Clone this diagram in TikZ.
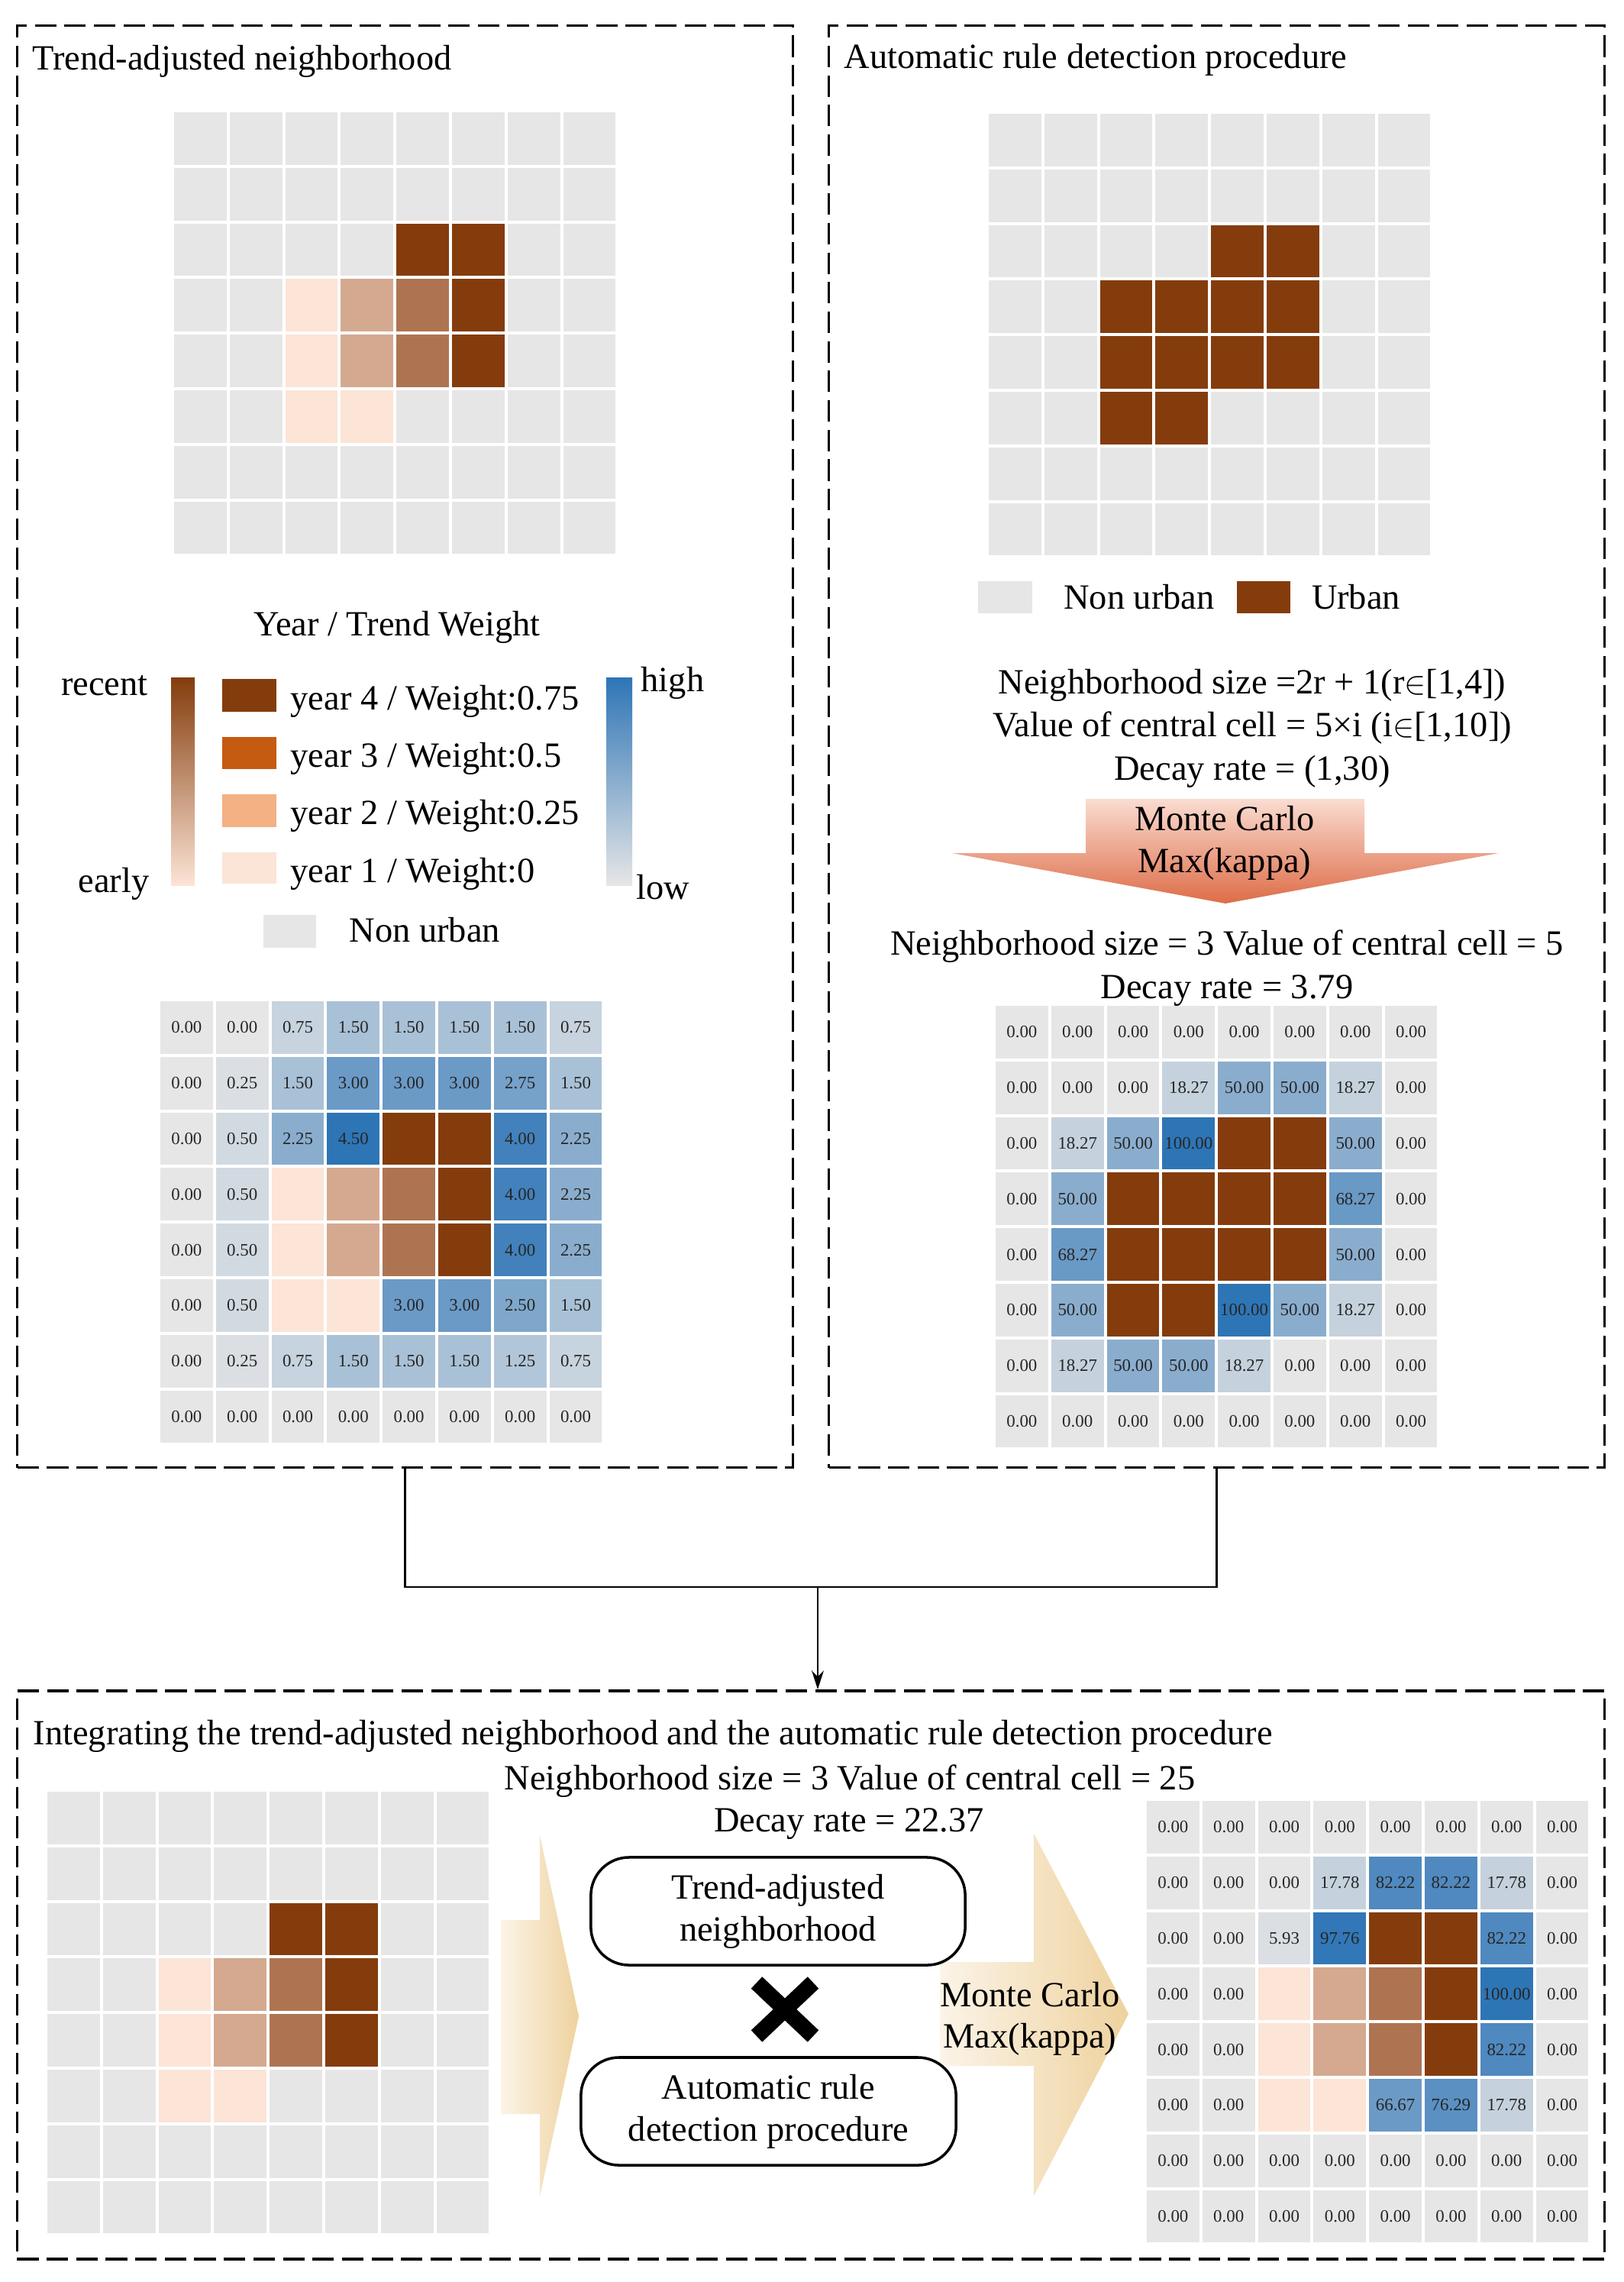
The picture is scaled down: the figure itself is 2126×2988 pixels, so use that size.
\documentclass[tikz,border=0pt]{standalone}
\usepackage{fontspec}
\setmainfont{Liberation Serif}
\usetikzlibrary{arrows.meta}
\newcommand\fs{\fontsize{13.2}{15.6}\selectfont}
\newcommand\fn{\fontsize{6.5}{7}\selectfont}
\definecolor{gg}{HTML}{E6E6E6}
\definecolor{bl}{HTML}{2E75B6}
\definecolor{ub}{HTML}{843C0C}
\definecolor{pc}{HTML}{AE7452}
\definecolor{pb}{HTML}{D4A98F}
\definecolor{pa}{HTML}{FCE4D6}
\definecolor{yc}{HTML}{C55A11}
\definecolor{yb}{HTML}{F4B183}
\definecolor{ya}{HTML}{FBE5D6}
\definecolor{arA}{HTML}{FADCD1}
\definecolor{arB}{HTML}{DD6D48}
\definecolor{tnA}{HTML}{FCF4E8}
\definecolor{tnB}{HTML}{EED29E}
\newcommand\valgrid[4]{%
 \foreach \cc/\lab [count=\gi from 0] in {#4}{%
  \pgfmathtruncatemacro\gr{\gi/8}%
  \pgfmathtruncatemacro\gc{mod(\gi,8)}%
  \fill[fill=\cc] ({#1+\gc*72.8},{#2+\gr*72.8}) rectangle ++(68.8,68.8);
  \node[num] (#3-\gi) at ({#1+\gc*72.8+34.4},{#2+\gr*72.8+34.4}) {\lab};
 }}
\newcommand\plaingrid[3]{%
 \foreach \gi in {0,...,63}{%
  \pgfmathtruncatemacro\gr{\gi/8}\pgfmathtruncatemacro\gc{mod(\gi,8)}%
  \fill[fill=gg] ({#1+\gc*72.8},{#2+\gr*72.8}) rectangle ++(68.8,68.8);}
 \foreach \gc/\gr/\cc in {#3}{\fill[fill=\cc] ({#1+\gc*72.8},{#2+\gr*72.8}) rectangle ++(68.8,68.8);}}
\tikzset{
  panel/.style={draw, dash pattern=on 8pt off 3pt, line width=1pt, inner sep=0pt},
  txt/.style={font=\fs, inner sep=0pt, anchor=base},
  txtw/.style={txt, anchor=base west},
  num/.style={font=\fn, inner sep=0pt, text=black!85},
  conn/.style={line width=0.8pt},
  rbox/.style={draw, rounded corners=0.5cm, line width=1pt, align=center, font=\fs, inner sep=0pt},
  lsq/.style={draw=none}
}
\begin{document}
\begin{tikzpicture}[x=0.01cm, y=-0.01cm]
\useasboundingbox[fill=white] (0,0) rectangle (2126,2988);

% panels
\node[panel, minimum width=10.15cm, minimum height=18.87cm] (L) at (530.5,977.5) {};
\node[panel, minimum width=10.15cm, minimum height=18.87cm] (R) at (1593.5,977.5) {};
\node[panel, minimum width=20.78cm, minimum height=7.44cm] (B) at (1062,2586) {};

% connectors
\coordinate (J) at (1071,2078);
\draw[conn] (L.south) |- (J);
\draw[conn] (R.south) |- (J);
\draw[conn, -{Stealth[length=7pt, width=4.5pt]}] (J) -- (J |- B.north);

% ---------- left panel ----------
\node[txtw] (tL) at (42,92) {Trend-adjusted neighborhood};
\plaingrid{228}{147}{4/2/ub,5/2/ub,2/3/pa,3/3/pb,4/3/pc,5/3/ub,2/4/pa,3/4/pb,4/4/pc,5/4/ub,2/5/pa,3/5/pa}
\node[txt] (yrw) at (520,832) {Year / Trend Weight};
\node[txt] (rec) at (137,910) {recent};
\node[txt] (ear) at (149,1168) {early};
\shade[top color=ub, bottom color=pa] (224,887) rectangle (255,1159);
\fill[ub] (291,889) rectangle (362,932);
\fill[yc] (291,965) rectangle (362,1007);
\fill[yb] (291,1040) rectangle (362,1083);
\fill[ya] (291,1116) rectangle (362,1157);
\node[txtw] (y4) at (380,929) {year 4 / Weight:0.75};
\node[txtw] (y3) at (380,1004) {year 3 / Weight:0.5};
\node[txtw] (y2) at (380,1079) {year 2 / Weight:0.25};
\node[txtw] (y1) at (380,1155) {year 1 / Weight:0};
\shade[top color=bl, bottom color=gg] (794,887) rectangle (828,1159);
\node[txt] (hig) at (881,905) {high};
\node[txt] (low) at (868,1177) {low};
\fill[gg] (345,1198) rectangle (414,1241);
\node[txtw] (nuL) at (457,1233) {Non urban};

\valgrid{210}{1311}{gB}{%
gg/0.00, gg/0.00, bl!17!gg/0.75, bl!33!gg/1.50, bl!33!gg/1.50, bl!33!gg/1.50, bl!33!gg/1.50, bl!17!gg/0.75,
gg/0.00, bl!6!gg/0.25, bl!33!gg/1.50, bl!67!gg/3.00, bl!67!gg/3.00, bl!67!gg/3.00, bl!61!gg/2.75, bl!33!gg/1.50,
gg/0.00, bl!11!gg/0.50, bl!50!gg/2.25, bl!100!gg/4.50, ub/{}, ub/{}, bl!89!gg/4.00, bl!50!gg/2.25,
gg/0.00, bl!11!gg/0.50, pa/{}, pb/{}, pc/{}, ub/{}, bl!89!gg/4.00, bl!50!gg/2.25,
gg/0.00, bl!11!gg/0.50, pa/{}, pb/{}, pc/{}, ub/{}, bl!89!gg/4.00, bl!50!gg/2.25,
gg/0.00, bl!11!gg/0.50, pa/{}, pa/{}, bl!67!gg/3.00, bl!67!gg/3.00, bl!56!gg/2.50, bl!33!gg/1.50,
gg/0.00, bl!6!gg/0.25, bl!17!gg/0.75, bl!33!gg/1.50, bl!33!gg/1.50, bl!33!gg/1.50, bl!28!gg/1.25, bl!17!gg/0.75,
gg/0.00, gg/0.00, gg/0.00, gg/0.00, gg/0.00, gg/0.00, gg/0.00, gg/0.00}

% ---------- right panel ----------
\node[txtw] (tR) at (1105,90) {Automatic rule detection procedure};
\plaingrid{1295}{149}{4/2/ub,5/2/ub,2/3/ub,3/3/ub,4/3/ub,5/3/ub,2/4/ub,3/4/ub,4/4/ub,5/4/ub,2/5/ub,3/5/ub}
\fill[gg] (1281,761) rectangle (1352,803);
\node[txt] (nuR) at (1492,797) {Non urban};
\fill[ub] (1620,761) rectangle (1690,803);
\node[txt] (urR) at (1776,797) {Urban};
\node[txt] (n1) at (1640,908) {Neighborhood size =2r + 1(r$\in$[1,4])};
\node[txt] (n2) at (1640,964) {Value of central cell = 5×i (i$\in$[1,10])};
\node[txt] (n3) at (1640,1021) {Decay rate = (1,30)};
\shade[top color=arA, bottom color=arB] (1422,1046) -- (1787,1046) -- (1787,1117) -- (1963,1117) -- (1605,1183) -- (1247,1117) -- (1422,1117) -- cycle;
\node[txt] (mc1) at (1604,1087) {Monte Carlo};
\node[txt] (mc2) at (1604,1142) {Max(kappa)};
\node[txt] (res1) at (1607,1250) {Neighborhood size = 3 Value of central cell = 5};
\node[txt] (res2) at (1607,1307) {Decay rate = 3.79};

\valgrid{1304}{1317}{gD}{%
gg/0.00, gg/0.00, gg/0.00, gg/0.00, gg/0.00, gg/0.00, gg/0.00, gg/0.00,
gg/0.00, gg/0.00, gg/0.00, bl!18!gg/18.27, bl!50!gg/50.00, bl!50!gg/50.00, bl!18!gg/18.27, gg/0.00,
gg/0.00, bl!18!gg/18.27, bl!50!gg/50.00, bl!100!gg/100.00, ub/{}, ub/{}, bl!50!gg/50.00, gg/0.00,
gg/0.00, bl!50!gg/50.00, ub/{}, ub/{}, ub/{}, ub/{}, bl!68!gg/68.27, gg/0.00,
gg/0.00, bl!68!gg/68.27, ub/{}, ub/{}, ub/{}, ub/{}, bl!50!gg/50.00, gg/0.00,
gg/0.00, bl!50!gg/50.00, ub/{}, ub/{}, bl!100!gg/100.00, bl!50!gg/50.00, bl!18!gg/18.27, gg/0.00,
gg/0.00, bl!18!gg/18.27, bl!50!gg/50.00, bl!50!gg/50.00, bl!18!gg/18.27, gg/0.00, gg/0.00, gg/0.00,
gg/0.00, gg/0.00, gg/0.00, gg/0.00, gg/0.00, gg/0.00, gg/0.00, gg/0.00}

% ---------- bottom panel ----------
\node[txtw] (tB) at (43,2284) {Integrating the trend-adjusted neighborhood and the automatic rule detection procedure};
\node[txt] (bres1) at (1113,2343) {Neighborhood size = 3 Value of central cell = 25};
\node[txt] (bres2) at (1112,2398) {Decay rate = 22.37};
\plaingrid{62}{2346}{4/2/ub,5/2/ub,2/3/pa,3/3/pb,4/3/pc,5/3/ub,2/4/pa,3/4/pb,4/4/pc,5/4/ub,2/5/pa,3/5/pa}
\shade[left color=tnA, right color=tnB] (656,2514) -- (707,2514) -- (707,2403) -- (758,2640) -- (707,2876) -- (707,2768) -- (656,2768) -- cycle;
\shade[left color=tnA, right color=tnB] (1231,2569) -- (1354,2569) -- (1354,2401) -- (1478,2637) -- (1354,2875) -- (1354,2705) -- (1231,2705) -- cycle;
\node[rbox, minimum width=4.9cm, minimum height=1.41cm] (tb1) at (1019,2502.5) {Trend-adjusted\\neighborhood};
\node[rbox, minimum width=4.91cm, minimum height=1.41cm] (tb2) at (1006.5,2764.5) {Automatic rule\\detection procedure};
\draw[line width=6pt] (991,2596) -- (1065,2666);
\draw[line width=6pt] (1065,2596) -- (991,2666);
\node[txt] (mcb1) at (1349,2627) {Monte Carlo};
\node[txt] (mcb2) at (1349,2681) {Max(kappa)};

\valgrid{1502}{2358}{gF}{%
gg/0.00, gg/0.00, gg/0.00, gg/0.00, gg/0.00, gg/0.00, gg/0.00, gg/0.00,
gg/0.00, gg/0.00, gg/0.00, bl!18!gg/17.78, bl!82!gg/82.22, bl!82!gg/82.22, bl!18!gg/17.78, gg/0.00,
gg/0.00, gg/0.00, bl!6!gg/5.93, bl!98!gg/97.76, ub/{}, ub/{}, bl!82!gg/82.22, gg/0.00,
gg/0.00, gg/0.00, pa/{}, pb/{}, pc/{}, ub/{}, bl!100!gg/100.00, gg/0.00,
gg/0.00, gg/0.00, pa/{}, pb/{}, pc/{}, ub/{}, bl!82!gg/82.22, gg/0.00,
gg/0.00, gg/0.00, pa/{}, pa/{}, bl!67!gg/66.67, bl!76!gg/76.29, bl!18!gg/17.78, gg/0.00,
gg/0.00, gg/0.00, gg/0.00, gg/0.00, gg/0.00, gg/0.00, gg/0.00, gg/0.00,
gg/0.00, gg/0.00, gg/0.00, gg/0.00, gg/0.00, gg/0.00, gg/0.00, gg/0.00}
\end{tikzpicture}
\end{document}
